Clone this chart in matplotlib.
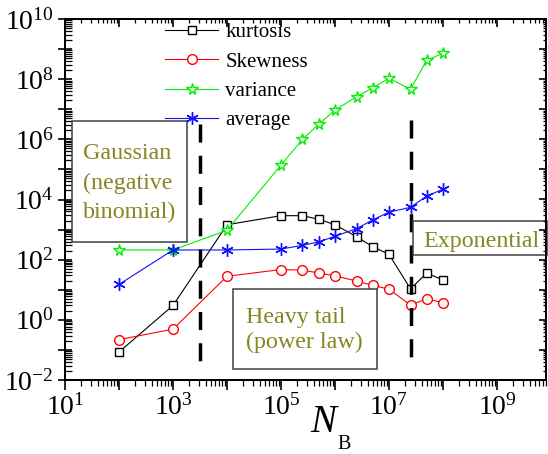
import numpy as np
import matplotlib
matplotlib.use('Agg')
import matplotlib.pyplot as plt
from matplotlib.ticker import LogLocator, FuncFormatter, NullFormatter
from matplotlib.patches import Rectangle

plt.rcParams['font.family'] = ['Liberation Serif', 'DejaVu Serif']
plt.rcParams['mathtext.fontset'] = 'custom'
plt.rcParams['mathtext.rm'] = 'Liberation Serif'
plt.rcParams['mathtext.it'] = 'Liberation Serif:italic'
plt.rcParams['lines.scale_dashes'] = False

# ---------------- data ----------------
N_B = [1e2, 1e3, 1e4, 1e5, 2.5e5, 5e5, 1e6, 2.5e6, 5e6, 1e7, 2.5e7, 5e7, 1e8]
kurtosis = [0.085, 3.0, 1450, 2900, 2900, 2200, 1450, 580, 270, 150, 10.7, 36, 21]
skewness = [0.22, 0.49, 28, 47, 45, 36, 29, 19.5, 14, 10.4, 3.1, 5.0, 3.7]
variance = [210, 210, 950, 1.4e5, 1.0e6, 3.2e6, 9.3e6, 2.6e7, 5.2e7, 1.07e8, 4.6e7, 4.3e8, 7.2e8]
average = [15, 210, 210, 225, 300, 390, 600, 1070, 2100, 3800, 5500, 13000, 22000]
series_labels = ['kurtosis', 'Skewness', 'variance', 'average']
boundaries = [3.2e3, 2.5e7]
gauss_lines = ['Gaussian', '(negative', 'binomial)']
heavy_lines = ['Heavy tail', '(power law)']
expo_lines = ['Exponential']

W, H = 548, 454
fig = plt.figure(figsize=(W / 100, H / 100), dpi=100)
ax = fig.add_axes([65 / W, (H - 380) / H, (546 - 65) / W, 361 / H])
ax.set_xscale('log')
ax.set_yscale('log')
xlim = (10, 10 ** 9.907)
ylim = (1e-2, 1e10)

ms_kw = dict(markerfacecolor='white', markeredgewidth=1.0, linewidth=0.8)
ax.plot(N_B, kurtosis, color='black', marker='s', markersize=5.5, label=series_labels[0], **ms_kw)
ax.plot(N_B, skewness, color='#ff0000', marker='o', markersize=7, label=series_labels[1], **ms_kw)
ax.plot(N_B, variance, color='#00f000', marker='*', markersize=8.5, label=series_labels[2], **ms_kw)
ax.plot(N_B, average, color='#1010ff', marker=(6, 2, 0), markersize=9, linewidth=0.8,
        markeredgewidth=1.0, label=series_labels[3])

# dashed boundaries (drawn from top down)
xt = ax.get_xaxis_transform()
ax.plot([boundaries[0]] * 2, [0.709, 0.018], transform=xt, color='black', lw=2.5,
        dashes=(13, 9.5), solid_capstyle='butt', dash_capstyle='butt', zorder=4)
ax.plot([boundaries[1]] * 2, [0.720, 0.030], transform=xt, color='black', lw=2.5,
        dashes=(13, 9.5), solid_capstyle='butt', dash_capstyle='butt', zorder=4)

ax.set_xlim(*xlim)
ax.set_ylim(*ylim)

def fx(v, pos):
    e = int(round(np.log10(v)))
    return r'$10^{%d}$' % e if e % 2 == 1 else ''

def fy(v, pos):
    e = int(round(np.log10(v)))
    return r'$10^{%d}$' % e if e % 2 == 0 else ''

for axis, f in ((ax.xaxis, fx), (ax.yaxis, fy)):
    axis.set_major_locator(LogLocator(base=10, numticks=30))
    axis.set_minor_locator(LogLocator(base=10, subs=np.arange(2, 10), numticks=30))
    axis.set_major_formatter(FuncFormatter(f))
    axis.set_minor_formatter(NullFormatter())

for s in ax.spines.values():
    s.set_linewidth(1.4)
ax.tick_params(axis='x', which='major', direction='out', length=7, width=1.2, labelsize=20, pad=3,
               top=False)
ax.tick_params(axis='x', which='minor', direction='out', length=4, width=0.9, top=False)
ax.tick_params(axis='y', which='major', direction='inout', length=10, width=1.2, labelsize=20, pad=3,
               right=False)
ax.tick_params(axis='y', which='minor', direction='in', length=5, width=0.9, right=False)

# top and right ticks (inward)
axt = ax.twiny()
axt.set_xscale('log')
axt.set_xlim(*xlim)
axt.xaxis.set_major_locator(LogLocator(base=10, numticks=30))
axt.xaxis.set_minor_locator(LogLocator(base=10, subs=np.arange(2, 10), numticks=30))
axt.tick_params(axis='x', which='major', direction='in', length=6, width=1.2, labeltop=False)
axt.tick_params(axis='x', which='minor', direction='in', length=3, width=0.9)
axr = ax.twinx()
axr.set_yscale('log')
axr.set_ylim(*ylim)
axr.yaxis.set_major_locator(LogLocator(base=10, numticks=30))
axr.yaxis.set_minor_locator(LogLocator(base=10, subs=np.arange(2, 10), numticks=30))
axr.tick_params(axis='y', which='major', direction='in', length=5, width=1.2, labelright=False)
axr.tick_params(axis='y', which='minor', direction='in', length=2.5, width=0.9)
for a in (axt, axr):
    for s in a.spines.values():
        s.set_linewidth(1.4)

# legend
leg = ax.legend(loc='upper left', bbox_to_anchor=(0.208, 0.99), frameon=False, fontsize=15,
                borderpad=0, borderaxespad=0, handlelength=2.55, handletextpad=0.35,
                labelspacing=0.47)
leg.set_zorder(6)

# annotation boxes
olive = '#868622'
edge = '#404040'
def fx_px(px):
    return (px - 65) / 481
def fy_px(py):
    return (380 - py) / 361

def box(x0, y0, x1, y1):
    r = Rectangle((fx_px(x0), fy_px(y1)), fx_px(x1) - fx_px(x0), fy_px(y0) - fy_px(y1),
                  transform=ax.transAxes, facecolor='white', edgecolor=edge, lw=1.1,
                  zorder=5, clip_on=False)
    ax.add_patch(r)

box(72, 121, 187, 242)
for line, by in zip(gauss_lines, [159, 189, 218]):
    ax.text(fx_px(83), fy_px(by), line, transform=ax.transAxes, color=olive, fontsize=17.3,
            ha='left', va='baseline', zorder=6)
box(233, 289, 377, 369)
for line, by in zip(heavy_lines, [323, 348]):
    ax.text(fx_px(246), fy_px(by), line, transform=ax.transAxes, color=olive, fontsize=17.3,
            ha='left', va='baseline', zorder=6)
box(413, 221, 547, 255)
for line, by in zip(expo_lines, [247]):
    ax.text(fx_px(423), fy_px(by), line, transform=ax.transAxes, color=olive, fontsize=17.3,
            ha='left', va='baseline', zorder=6, clip_on=False)

# axis label N_B
fig.text(310 / W, 1 - 432 / H, 'N', fontsize=28, fontstyle='italic', ha='left', va='baseline')
fig.text(337 / W, 1 - 449 / H, 'B', fontsize=14.5, ha='left', va='baseline')

fig.savefig('out.png', dpi=100)
